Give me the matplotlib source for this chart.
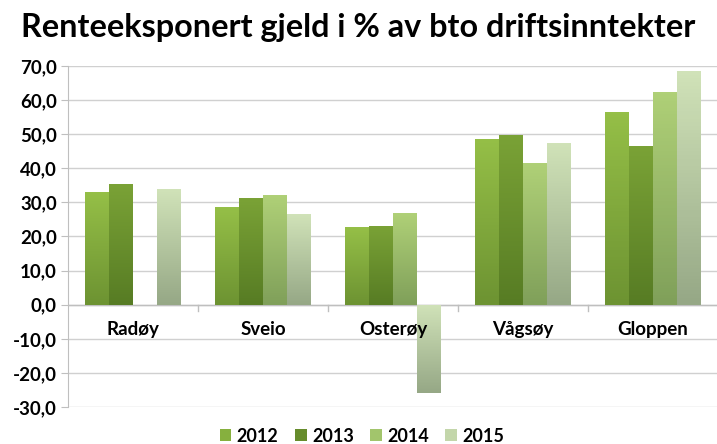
import matplotlib
matplotlib.use("Agg")
import matplotlib.pyplot as plt
import numpy as np
from matplotlib.colors import LinearSegmentedColormap
from matplotlib.patches import Patch

kommuner = ['Radøy', 'Sveio', 'Osterøy', 'Vågsøy', 'Gloppen']
years = ['2012', '2013', '2014', '2015']
v2012 = [33.0, 28.7, 22.8, 48.7, 56.6]
v2013 = [35.3, 31.2, 23.2, 49.9, 46.6]
v2014 = [np.nan, 32.1, 26.8, 41.6, 62.5]
v2015 = [33.9, 26.5, -26.0, 47.4, 68.4]
values = [v2012, v2013, v2014, v2015]

# top colour, bottom colour for each year
grad = [('#95bf47', '#6d9332'),
        ('#7aa236', '#577c24'),
        ('#afd077', '#80a05a'),
        ('#d0e2b8', '#96a886')]
legend_cols = ['#86b03e', '#668c2c', '#a2c56c', '#c3d6aa']

plt.rcParams['font.family'] = ['Lato', 'DejaVu Sans']
plt.rcParams['font.weight'] = 'bold'

fig = plt.figure(figsize=(7.17, 4.44), dpi=100)
ax = fig.add_axes([68/717, 1 - 407/444, 650/717, (407 - 66)/444])

x = np.arange(len(kommuner))
w = 0.183
offs = (np.arange(4) - 1.5) * w

for i, vals in enumerate(values):
    cmap = LinearSegmentedColormap.from_list('g%d' % i, [grad[i][1], grad[i][0]])
    bars = ax.bar(x + offs[i], vals, w, color='none', edgecolor='none', zorder=3)
    for b in bars:
        h = b.get_height()
        if np.isnan(h) or h == 0:
            continue
        x0 = b.get_x()
        y0, y1 = min(0, h), max(0, h)
        img = np.linspace(0, 1, 64).reshape(-1, 1)
        im = ax.imshow(img, cmap=cmap, origin='lower', aspect='auto',
                       extent=[x0, x0 + w, y0, y1], zorder=3)
        im.set_clip_path(b)

ax.set_xlim(-0.5, len(kommuner) - 0.5)
ax.set_ylim(-30, 70)
ax.set_yticks(np.arange(-30, 71, 10))
ax.set_yticklabels([('%.1f' % t).replace('.', ',') for t in np.arange(-30, 71, 10)],
                   fontsize=13.5, fontweight='bold')
ax.tick_params(axis='y', length=5, color='#bfbfbf', pad=3)
ax.grid(axis='y', color='#d0d0d0', linewidth=1, zorder=0)
ax.set_axisbelow(True)

for s in ['top', 'right', 'bottom']:
    ax.spines[s].set_visible(False)
ax.spines['left'].set_color('#bfbfbf')

ax.axhline(0, color='#bfbfbf', linewidth=1, zorder=2)
ax.set_xticks([])
for b in np.arange(0.5, len(kommuner) - 0.5, 1):
    ax.plot([b, b], [0, -1.8], color='#bfbfbf', linewidth=1, zorder=2, clip_on=False)
for xi, k in zip(x, kommuner):
    ax.text(xi, -7.2, k, ha='center', va='center', fontsize=13.5, fontweight='bold')

ax.set_xlim(-0.5, len(kommuner) - 0.5)

fig.text(0.5, 1 - 28/444, 'Renteeksponert gjeld i % av bto driftsinntekter',
         ha='center', va='center', fontsize=23.3, fontweight='bold')

handles = [Patch(facecolor=c, edgecolor='none') for c in legend_cols]
fig.legend(handles, years, loc='center', bbox_to_anchor=(362/717, 1 - 436/444),
           ncol=4, frameon=False, handlelength=0.65, handleheight=0.65,
           handletextpad=0.3, columnspacing=0.9, prop={'weight': 'bold', 'size': 13})

fig.savefig('out.png', dpi=100)
